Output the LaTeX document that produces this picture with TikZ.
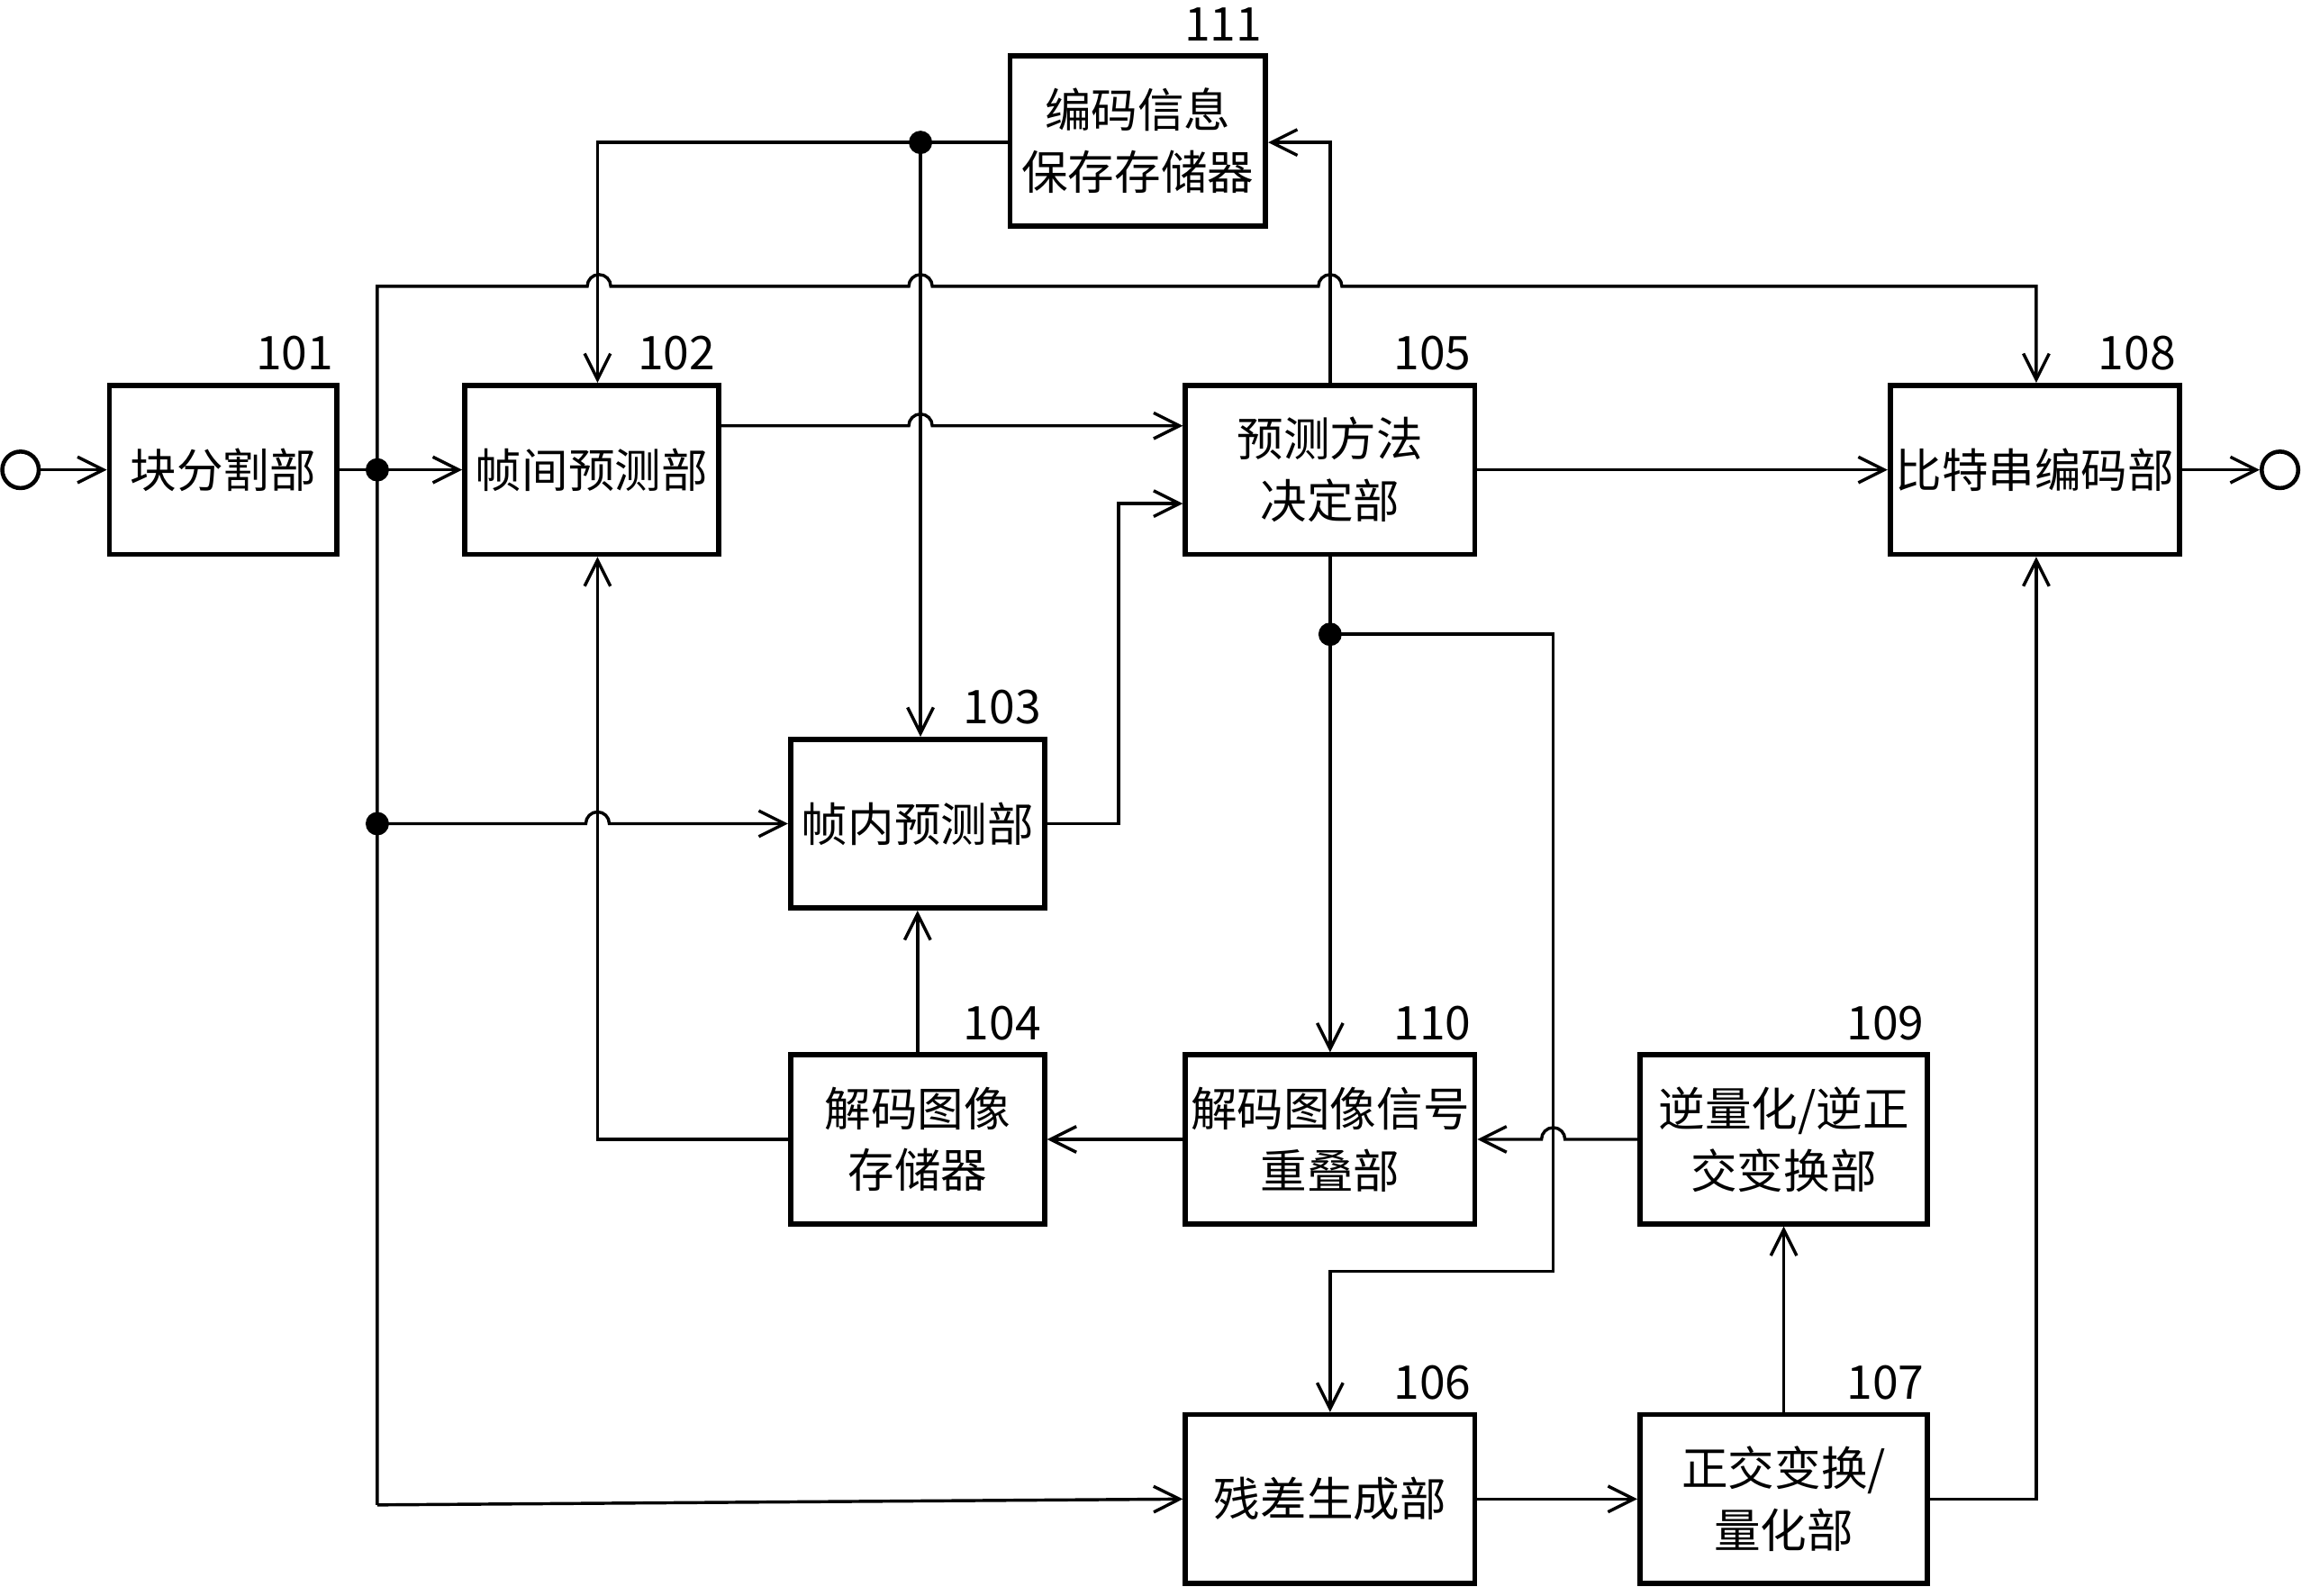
\documentclass[tikz,border=0pt]{standalone}
\usepackage{fontspec}
\setmainfont{Noto Sans CJK SC}
\usetikzlibrary{arrows.meta,calc}
\begin{document}
\begin{tikzpicture}[x=0.01cm,y=-0.01cm,
 box/.style={draw,line width=1pt,inner sep=0pt,font=\fontsize{9}{12}\selectfont,align=center},
 num/.style={font=\fontsize{9}{10}\selectfont,anchor=south east,inner sep=1pt},
 ln/.style={line width=0.6pt},
 arr/.style={ln,-{Straight Barb[length=5pt,width=5pt]}},
 dot/.style={circle,fill,inner sep=1.6pt},
 term/.style={circle,draw,line width=0.8pt,inner sep=2.5pt}]
\useasboundingbox (0,0) rectangle (1568,1087);
\def\r{0.08cm}
\newcommand\bx[6]{\node[box,minimum width=#4*0.01cm,minimum height=#5*0.01cm] (#1) at (#2,#3) {#6};}
\bx{b101}{152}{320}{155}{115}{块分割部}
\bx{b102}{403}{320}{173}{115}{帧间预测部}
\bx{b105}{906}{320}{197}{115}{预测方法\\决定部}
\bx{b108}{1386}{320}{197}{115}{比特串编码部}
\bx{b111}{775}{96}{174}{116}{编码信息\\保存存储器}
\bx{b103}{625}{561}{173}{115}{帧内预测部}
\bx{b104}{625}{776}{173}{115}{解码图像\\存储器}
\bx{b110}{906}{776}{197}{115}{解码图像信号\\重叠部}
\bx{b109}{1215}{776}{196}{115}{逆量化/逆正\\交变换部}
\bx{b106}{906}{1021}{197}{115}{残差生成部}
\bx{b107}{1215}{1021}{196}{115}{正交变换/\\量化部}
\foreach \n/\t in {b101/101,b102/102,b105/105,b108/108,b111/111,b103/103,b104/104,b110/110,b109/109,b106/106,b107/107}
 \node[num] at ($(\n.north east)+(0,-4)$) {\t};
\node[term] (in) at (14,320) {};
\node[term] (out) at (1553,320) {};
\coordinate (j1) at (257,320);
\coordinate (j2) at (257,561);
\coordinate (j3) at (627,97);
\coordinate (j4) at (906,432);
\node[dot] at (j1) {};\node[dot] at (j2) {};\node[dot] at (j3) {};\node[dot] at (j4) {};
\draw[arr] (in) -- (b101);
\draw[arr] (b101) -- (b102);
\draw[arr] (b108) -- (out);
% top bus
\draw[arr] (257,1025) -- (257,195) -- (400,195) arc[start angle=180,end angle=0,radius=\r] -- (619,195) arc[start angle=180,end angle=0,radius=\r] -- (898,195) arc[start angle=180,end angle=0,radius=\r] -- (1387,195) -- (b108.north -| 1387,0);
\draw[arr] (j2) -- (399,561) arc[start angle=180,end angle=0,radius=\r] -- (b103.west);
\draw[arr] (257,1025) -- (b106.west);
% 111 outputs
\draw[arr] (b111.west |- 0,97) -- (407,97) -- (b102.north -| 407,0);
\draw[arr] (j3) -- (b103.north -| 627,0);
\draw[arr] (b102.east |- 0,290) -- (619,290) arc[start angle=180,end angle=0,radius=\r] -- (b105.west |- 0,290);
\draw[arr] (b103.east) -- (762,561) -- (762,343) -- (b105.west |- 0,343);
\draw[arr] (b105.north) -- (906,97) -- (b111.east |- 0,97);
\draw[arr] (b105) -- (b108);
\draw[arr] (b105.south) -- (b110.north);
\draw[arr] (j4) -- (1058,432) -- (1058,866) -- (906,866) -- (b106.north);
\draw[arr] (b109.west) -- (1066,776) arc[start angle=0,end angle=180,radius=\r] -- (b110.east);
\draw[arr] (b110) -- (b104);
\draw[arr] (b104.west) -- (407,776) -- (b102.south -| 407,0);
\draw[arr] (b104) -- (b103);
\draw[arr] (b106) -- (b107);
\draw[arr] (b107) -- (b109);
\draw[arr] (b107.east) -- (1387,1021) -- (b108.south -| 1387,0);
\end{tikzpicture}
\end{document}
